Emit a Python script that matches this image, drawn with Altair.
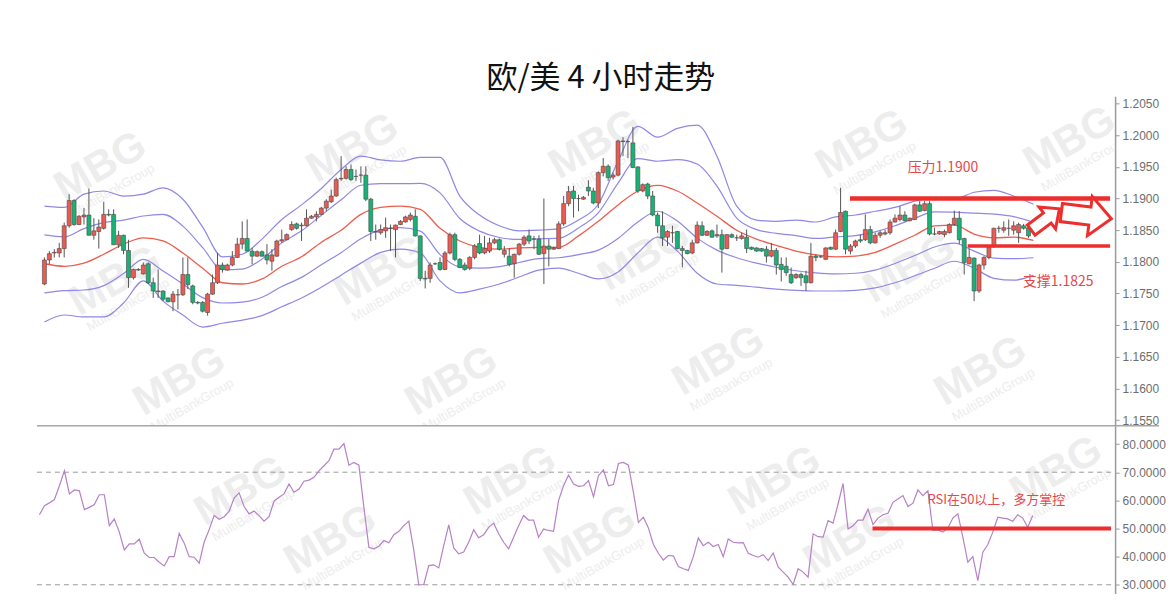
import altair as alt
import pandas as pd

# ---------------- data ----------------
opens = [1.1765,1.1803,1.1814,1.1814,1.1821,1.1857,1.1897,1.1859,1.1871,1.1874,
1.1842,1.1848,1.1853,1.1875,1.1875,1.1827,1.1842,1.1818,1.1775,1.1788,
1.1781,1.1797,1.1767,1.1754,1.1754,1.1743,1.1737,1.1748,1.1748,1.1780,
1.1762,1.1736,1.1736,1.1720,1.1749,1.1767,1.1795,1.1787,1.1795,1.1807,
1.1828,1.1837,1.1817,1.1809,1.1816,1.1811,1.1801,1.1809,1.1833,1.1835,
1.1851,1.1860,1.1857,1.1857,1.1869,1.1871,1.1875,1.1885,1.1895,1.1904,
1.1931,1.1932,1.1946,1.1935,1.1937,1.1937,1.1899,1.1848,1.1846,1.1849,
1.1853,1.1851,1.1859,1.1863,1.1867,1.1872,1.1841,1.1774,1.1774,1.1797,
1.1799,1.1788,1.1814,1.1843,1.1804,1.1795,1.1790,1.1807,1.1829,1.1814,
1.1817,1.1830,1.1835,1.1812,1.1809,1.1797,1.1812,1.1828,1.1841,1.1836,
1.1836,1.1813,1.1825,1.1820,1.1821,1.1860,1.1892,1.1912,1.1900,1.1899,
1.1918,1.1912,1.1893,1.1941,1.1951,1.1934,1.1937,1.1991,1.1990,1.1988,
1.1950,1.1912,1.1923,1.1904,1.1874,1.1857,1.1839,1.1846,1.1848,1.1821,
1.1818,1.1814,1.1830,1.1857,1.1842,1.1849,1.1841,1.1843,1.1821,1.1843,
1.1838,1.1837,1.1839,1.1823,1.1822,1.1821,1.1820,1.1809,1.1818,1.1796,
1.1793,1.1780,1.1775,1.1780,1.1778,1.1767,1.1809,1.1808,1.1804,1.1823,
1.1820,1.1848,1.1880,1.1817,1.1825,1.1835,1.1835,1.1851,1.1830,1.1842,
1.1844,1.1846,1.1863,1.1867,1.1874,1.1865,1.1867,1.1890,1.1881,1.1892,
1.1844,1.1844,1.1843,1.1846,1.1859,1.1869,1.1837,1.1797,1.1806,1.1754,
1.1795,1.1807,1.1825,1.1853,1.1850,1.1853,1.1850,1.1846,1.1857,1.1854]
highs = [1.1807,1.1817,1.1820,1.1830,1.1862,1.1907,1.1899,1.1874,1.1885,1.1916,
1.1869,1.1867,1.1895,1.1883,1.1883,1.1849,1.1843,1.1835,1.1789,1.1790,
1.1799,1.1799,1.1775,1.1788,1.1755,1.1744,1.1754,1.1757,1.1807,1.1807,
1.1764,1.1738,1.1738,1.1751,1.1780,1.1814,1.1799,1.1797,1.1817,1.1838,
1.1864,1.1867,1.1822,1.1818,1.1818,1.1828,1.1820,1.1835,1.1851,1.1845,
1.1864,1.1862,1.1862,1.1883,1.1874,1.1880,1.1887,1.1899,1.1914,1.1933,
1.1967,1.1951,1.1954,1.1946,1.1951,1.1951,1.1901,1.1859,1.1859,1.1870,
1.1859,1.1859,1.1866,1.1873,1.1878,1.1883,1.1842,1.1786,1.1799,1.1799,
1.1807,1.1817,1.1846,1.1846,1.1806,1.1799,1.1809,1.1828,1.1843,1.1841,
1.1838,1.1838,1.1837,1.1825,1.1822,1.1813,1.1830,1.1842,1.1851,1.1841,
1.1842,1.1900,1.1836,1.1824,1.1864,1.1904,1.1920,1.1920,1.1906,1.1904,
1.1929,1.1917,1.1943,1.1964,1.1954,1.1941,1.1993,1.1997,1.1993,1.2013,
1.1951,1.1924,1.1925,1.1912,1.1878,1.1880,1.1850,1.1857,1.1849,1.1825,
1.1819,1.1835,1.1864,1.1864,1.1850,1.1851,1.1859,1.1851,1.1844,1.1845,
1.1843,1.1846,1.1851,1.1824,1.1823,1.1822,1.1825,1.1830,1.1822,1.1807,
1.1807,1.1791,1.1782,1.1783,1.1786,1.1830,1.1812,1.1810,1.1823,1.1824,
1.1851,1.1917,1.1881,1.1828,1.1835,1.1843,1.1875,1.1857,1.1846,1.1849,
1.1851,1.1867,1.1875,1.1888,1.1880,1.1870,1.1892,1.1896,1.1896,1.1896,
1.1854,1.1849,1.1851,1.1861,1.1881,1.1880,1.1838,1.1821,1.1807,1.1797,
1.1809,1.1826,1.1854,1.1857,1.1864,1.1867,1.1864,1.1862,1.1860,1.1859]
lows = [1.1763,1.1796,1.1807,1.1807,1.1807,1.1854,1.1857,1.1858,1.1859,1.1842,
1.1835,1.1821,1.1851,1.1872,1.1827,1.1822,1.1812,1.1759,1.1772,1.1786,
1.1780,1.1765,1.1743,1.1743,1.1738,1.1736,1.1722,1.1725,1.1746,1.1757,
1.1733,1.1733,1.1720,1.1715,1.1748,1.1765,1.1783,1.1786,1.1793,1.1806,
1.1820,1.1817,1.1796,1.1808,1.1808,1.1796,1.1786,1.1808,1.1830,1.1834,
1.1849,1.1851,1.1833,1.1856,1.1868,1.1864,1.1874,1.1880,1.1893,1.1903,
1.1928,1.1930,1.1928,1.1928,1.1925,1.1896,1.1833,1.1835,1.1843,1.1838,
1.1817,1.1807,1.1858,1.1862,1.1864,1.1840,1.1770,1.1758,1.1767,1.1795,
1.1786,1.1787,1.1812,1.1801,1.1790,1.1786,1.1787,1.1804,1.1812,1.1812,
1.1814,1.1828,1.1818,1.1807,1.1793,1.1775,1.1810,1.1825,1.1828,1.1820,
1.1811,1.1765,1.1793,1.1819,1.1820,1.1857,1.1888,1.1870,1.1880,1.1898,
1.1904,1.1891,1.1885,1.1935,1.1928,1.1930,1.1935,1.1967,1.1964,1.1948,
1.1909,1.1910,1.1899,1.1872,1.1846,1.1825,1.1825,1.1830,1.1820,1.1791,
1.1812,1.1812,1.1829,1.1841,1.1841,1.1838,1.1838,1.1783,1.1820,1.1838,
1.1833,1.1835,1.1814,1.1819,1.1816,1.1816,1.1799,1.1807,1.1780,1.1769,
1.1778,1.1765,1.1773,1.1762,1.1754,1.1766,1.1801,1.1806,1.1803,1.1819,
1.1819,1.1847,1.1812,1.1812,1.1822,1.1830,1.1833,1.1828,1.1829,1.1838,
1.1842,1.1843,1.1862,1.1864,1.1864,1.1864,1.1866,1.1879,1.1880,1.1842,
1.1842,1.1843,1.1839,1.1845,1.1857,1.1828,1.1780,1.1796,1.1738,1.1751,
1.1788,1.1804,1.1822,1.1846,1.1846,1.1841,1.1843,1.1830,1.1851,1.1838]
closes = [1.1803,1.1813,1.1815,1.1821,1.1857,1.1897,1.1859,1.1872,1.1874,1.1842,
1.1849,1.1855,1.1875,1.1874,1.1827,1.1842,1.1818,1.1775,1.1788,1.1787,
1.1795,1.1767,1.1754,1.1753,1.1741,1.1737,1.1749,1.1748,1.1780,1.1764,
1.1736,1.1735,1.1722,1.1749,1.1767,1.1795,1.1788,1.1795,1.1807,1.1828,
1.1837,1.1817,1.1809,1.1816,1.1809,1.1803,1.1811,1.1833,1.1835,1.1843,
1.1859,1.1853,1.1858,1.1869,1.1872,1.1875,1.1885,1.1896,1.1904,1.1930,
1.1932,1.1946,1.1930,1.1935,1.1937,1.1899,1.1848,1.1847,1.1851,1.1854,
1.1853,1.1858,1.1864,1.1871,1.1874,1.1841,1.1774,1.1773,1.1795,1.1797,
1.1788,1.1814,1.1843,1.1804,1.1791,1.1788,1.1807,1.1825,1.1814,1.1821,
1.1830,1.1835,1.1820,1.1818,1.1796,1.1812,1.1828,1.1839,1.1833,1.1836,
1.1812,1.1825,1.1820,1.1822,1.1860,1.1892,1.1911,1.1900,1.1900,1.1902,
1.1912,1.1893,1.1941,1.1951,1.1933,1.1937,1.1991,1.1990,1.1990,1.1949,
1.1912,1.1922,1.1904,1.1874,1.1857,1.1838,1.1848,1.1846,1.1821,1.1818,
1.1813,1.1830,1.1858,1.1842,1.1848,1.1839,1.1843,1.1820,1.1843,1.1839,
1.1838,1.1841,1.1821,1.1820,1.1817,1.1817,1.1809,1.1818,1.1795,1.1788,
1.1783,1.1767,1.1780,1.1775,1.1767,1.1809,1.1807,1.1808,1.1822,1.1820,
1.1846,1.1878,1.1820,1.1825,1.1833,1.1833,1.1851,1.1830,1.1842,1.1846,
1.1846,1.1863,1.1869,1.1874,1.1865,1.1869,1.1890,1.1880,1.1892,1.1844,
1.1844,1.1848,1.1848,1.1859,1.1869,1.1835,1.1799,1.1807,1.1754,1.1795,
1.1807,1.1825,1.1853,1.1853,1.1854,1.1853,1.1857,1.1859,1.1853,1.1841]

# Bollinger bands, sampled every 4 bars
band_idx = [0,4,8,12,16,20,24,28,32,36,40,44,48,52,56,60,64,68,72,76,80,84,88,92,96,
            100,104,108,112,116,120,124,128,132,136,140,144,148,152,156,160,164,168,172,
            176,180,184,188,192,196,200]
band_upper = [1.1888,1.1886,1.1907,1.1912,1.1904,1.1907,1.1917,1.1899,1.1855,1.1808,
1.1812,1.1836,1.1867,1.1890,1.1916,1.1946,1.1967,1.1961,1.1959,1.1965,1.1965,1.1904,
1.1874,1.1857,1.1849,1.1850,1.1852,1.1866,1.1891,1.1959,1.2014,1.1997,1.2011,1.2016,
1.1967,1.1888,1.1866,1.1864,1.1866,1.1863,1.1871,1.1874,1.1880,1.1886,1.1896,1.1901,
1.1899,1.1910,1.1913,1.1904,1.1891]
band_mid = [1.1797,1.1793,1.1798,1.1812,1.1828,1.1838,1.1833,1.1814,1.1790,1.1767,
1.1765,1.1773,1.1793,1.1808,1.1831,1.1850,1.1875,1.1886,1.1888,1.1883,1.1853,1.1833,
1.1823,1.1820,1.1822,1.1823,1.1823,1.1841,1.1864,1.1890,1.1912,1.1921,1.1912,1.1893,
1.1872,1.1850,1.1836,1.1826,1.1817,1.1811,1.1808,1.1809,1.1815,1.1828,1.1842,1.1857,
1.1858,1.1844,1.1838,1.1839,1.1834]
band_lower = [1.1705,1.1716,1.1713,1.1713,1.1735,1.1770,1.1738,1.1716,1.1697,1.1703,
1.1708,1.1715,1.1729,1.1743,1.1760,1.1779,1.1798,1.1815,1.1820,1.1814,1.1770,1.1751,
1.1757,1.1765,1.1776,1.1787,1.1790,1.1782,1.1773,1.1784,1.1814,1.1839,1.1817,1.1782,
1.1765,1.1763,1.1760,1.1757,1.1755,1.1754,1.1754,1.1755,1.1759,1.1767,1.1778,1.1790,
1.1801,1.1790,1.1774,1.1771,1.1779]

rsi = [54.9,58.1,59.1,60.3,65.2,70.5,62.3,63.7,63.4,56.7,
57.5,58.5,62.0,62.0,51.0,53.4,48.7,42.4,44.5,44.5,
46.2,41.2,39.7,39.7,38.0,36.7,40.0,40.0,48.3,44.8,
40.0,39.8,37.7,45.1,49.6,54.6,53.3,54.2,56.1,60.8,
62.7,57.8,55.2,56.2,54.6,52.6,54.2,59.7,61.1,62.3,
65.8,62.9,64.0,66.8,67.2,68.2,70.5,72.3,74.1,78.2,
78.2,80.2,72.5,73.5,72.5,57.5,43.3,42.8,43.7,45.7,
44.9,47.8,49.0,51.0,52.6,42.2,30.0,30.1,36.8,37.1,
36.0,43.9,51.3,43.1,41.0,41.6,45.1,49.5,46.7,47.8,
50.4,51.9,48.1,45.1,42.8,46.9,51.0,54.6,53.0,53.0,
46.9,49.8,49.3,49.0,59.9,65.2,69.0,65.8,65.0,65.2,
67.0,61.3,68.8,70.8,65.2,65.6,73.1,73.5,72.5,62.8,
52.2,54.0,50.2,44.3,41.2,38.8,40.4,40.3,36.5,35.7,
35.1,40.0,46.6,43.9,45.1,43.6,44.3,40.0,46.3,45.1,
44.9,45.0,41.2,40.4,39.8,40.7,38.6,41.3,36.3,34.5,
32.7,30.1,35.7,34.5,32.7,48.1,47.1,46.9,52.8,51.9,
58.7,66.0,49.8,51.0,53.0,53.0,56.9,51.4,53.7,54.9,
55.4,59.3,60.5,61.7,57.8,59.0,63.7,61.7,63.4,49.3,
49.5,48.7,50.2,53.7,55.2,46.9,38.0,40.0,31.5,41.6,
44.3,48.7,54.0,53.7,53.4,52.6,54.9,53.7,50.4,54.6]

price_ticks = [1.155,1.160,1.165,1.170,1.175,1.180,1.185,1.190,1.195,1.200,1.205]
rsi_ticks = [30,40,50,60,70,80]
rsi_guides = [70,30]

# annotations
level_price = [1.1900, 1.1825]
level_start = [162.9, 186.7]
level_end = [215.5, 215.5]
level_width = [4.5, 3.5]
level_text = ["压力1.1900", "支撑1.1825"]
level_text_idx = [181.7, 205.0]
level_text_price = [1.1948, 1.1768]
rsi_mark = [50]
rsi_mark_start = [166.9]
rsi_mark_end = [214.7]
rsi_text = ["RSI在50以上，多方掌控"]
rsi_text_idx = [191.7]
rsi_text_val = [60.3]
arrow_idx = [202.4, 210.7]
arrow_price = [1.1867, 1.1873]
arrow_angle = [323, 7]
arrow_size = [1250, 2550]

# watermark anchors (bar index / price, bar index / RSI)
wm_price_idx = [11.3, 62.3, 111.3, 165.3, 207.3, 14.3, 67.9, 121.3, 174.9, 27.3, 82.3, 136.3, 189.3]
wm_price_val = [1.1951, 1.1980, 1.1986, 1.1986, 1.1991, 1.1770, 1.1786, 1.1809, 1.1790,
                1.1612, 1.1612, 1.1644, 1.1628]
wm_rsi_idx = [40.3, 94.3, 147.3, 203.7, 58.3, 110.3, 162.3]
wm_rsi_val = [63.4, 67.0, 67.0, 70.5, 46.0, 46.0, 46.0]

TITLE = "欧/美 4 小时走势"
CJK = "Noto Sans CJK SC"
RED = "#ee2d2d"
BLUE = "#8f88e4"
WM = "#ededed"

# ---------------- tables ----------------
candles = pd.DataFrame({"i": list(range(len(opens))), "open": opens, "high": highs,
                        "low": lows, "close": closes})
candles["dir"] = ["up" if c >= o else "down" for o, c in zip(opens, closes)]
bands = pd.DataFrame({"i": band_idx, "upper": band_upper, "mid": band_mid, "lower": band_lower})
levels = pd.DataFrame({"p": level_price, "x0": level_start, "x1": level_end, "w": level_width})
level_labels = pd.DataFrame({"i": level_text_idx, "p": level_text_price, "t": level_text})
arrows = pd.DataFrame({"i": arrow_idx, "p": arrow_price, "a": arrow_angle, "s": arrow_size})
rsi_df = pd.DataFrame({"i": list(range(len(rsi))), "r": rsi})
guides = pd.DataFrame({"v": rsi_guides})
rsi_lvl = pd.DataFrame({"v": rsi_mark, "x0": rsi_mark_start, "x1": rsi_mark_end})
rsi_lbl = pd.DataFrame({"i": rsi_text_idx, "v": rsi_text_val, "t": rsi_text})
wm_p = pd.DataFrame({"i": wm_price_idx, "v": wm_price_val})
wm_r = pd.DataFrame({"i": wm_rsi_idx, "v": wm_rsi_val})

W = 1080
H1 = 330
H2 = 168

xscale = alt.Scale(domain=[-0.5, 215.5], nice=False, zero=False)
pscale = alt.Scale(domain=[1.1541, 1.20615], nice=False, zero=False)
rscale = alt.Scale(domain=[26.9, 86.5], nice=False, zero=False)

def axis_style(values, fmt):
    return alt.Axis(orient="right", values=values, format=fmt, title=None, grid=False,
                    domainColor="#9a9a9a", domainWidth=1.5, tickColor="#9a9a9a", tickSize=4,
                    labelColor="#6e6e6e", labelFont="Liberation Sans", labelFontSize=12,
                    labelPadding=3)

paxis = axis_style(price_ticks, ".4f")
raxis = axis_style(rsi_ticks, ".4f")

def X(field="i"):
    return alt.X(f"{field}:Q", scale=xscale, axis=None)

def PY(field):
    return alt.Y(f"{field}:Q", scale=pscale, axis=paxis)

def RY(field):
    return alt.Y(f"{field}:Q", scale=rscale, axis=raxis)

def watermarks(df, yfun, sub_shift):
    big = alt.Chart(df).mark_text(text="MBG", font="Liberation Sans", fontWeight="bold",
                                  fontSize=42, angle=330, color=WM, clip=True).encode(
        x=X(), y=yfun("v"))
    small = alt.Chart(df).transform_calculate(
        i2="datum.i + 2.6", v2=f"datum.v - {sub_shift}"
    ).mark_text(text="MultiBankGroup", font="Liberation Sans", fontSize=13, angle=330,
                color=WM, clip=True).encode(x=X("i2"), y=yfun("v2"))
    return [big, small]

# ---------------- price panel ----------------
band_lines = alt.Chart(bands).transform_calculate(
    ui="(datum.upper + datum.mid) / 2", li="(datum.lower + datum.mid) / 2"
).transform_fold(["upper", "ui", "li", "lower"], as_=["k", "val"]).mark_line(
    color=BLUE, strokeWidth=1.2, interpolate="monotone"
).encode(x=X(), y=PY("val"), detail="k:N")

mid_line = alt.Chart(bands).mark_line(color="#ec5d4c", strokeWidth=1.3, interpolate="monotone").encode(
    x=X(), y=PY("mid"))

wicks = alt.Chart(candles).mark_rule(color="#555555", strokeWidth=1).encode(
    x=X(), y=PY("low"), y2="high:Q")

bodies = alt.Chart(candles).mark_bar(size=4, stroke="#4a4a4a", strokeWidth=0.6).encode(
    x=X(), y=PY("open"), y2="close:Q",
    color=alt.Color("dir:N", scale=alt.Scale(domain=["up", "down"], range=["#ec5a50", "#17b276"]),
                    legend=None))

level_rules = alt.Chart(levels).mark_rule(color=RED).encode(
    x=X("x0"), x2="x1:Q", y=PY("p"), strokeWidth=alt.StrokeWidth("w:Q", scale=None))

level_txt = alt.Chart(level_labels).mark_text(font=CJK, fontSize=14, color="#e8474a").encode(
    x=X(), y=PY("p"), text="t:N")

arrow_path = "M -1 -0.36 L 0.14 -0.36 L 0.14 -0.78 L 1 0 L 0.14 0.78 L 0.14 0.36 L -1 0.36 Z"
arrow_marks = alt.Chart(arrows).mark_point(
    shape=arrow_path, filled=True, fill="white", stroke=RED, strokeWidth=3, opacity=1
).encode(x=X(), y=PY("p"), angle=alt.Angle("a:Q", scale=None),
         size=alt.Size("s:Q", scale=None, legend=None))

divider = alt.Chart(levels).mark_rule(color="#a0a0a0", strokeWidth=1).encode(
    x=alt.value(0), x2=alt.value(W + 44), y=alt.value(H1))

price_panel = alt.layer(
    *watermarks(wm_p, PY, 0.0038),
    band_lines, mid_line, wicks, bodies, level_rules, level_txt, arrow_marks, divider
).properties(width=W, height=H1)

# ---------------- RSI panel ----------------
guide_rules = alt.Chart(guides).mark_rule(color="#9a9a9a", strokeDash=[5, 4], strokeWidth=1).encode(
    y=RY("v"), x=alt.value(0), x2=alt.value(W))

rsi_line = alt.Chart(rsi_df).mark_line(color="#b681c6", strokeWidth=1.2).encode(x=X(), y=RY("r"))

rsi_rule = alt.Chart(rsi_lvl).mark_rule(color=RED, strokeWidth=4).encode(
    x=X("x0"), x2="x1:Q", y=RY("v"))

rsi_txt = alt.Chart(rsi_lbl).mark_text(font=CJK, fontSize=13, color="#e8474a").encode(
    x=X(), y=RY("v"), text="t:N")

rsi_panel = alt.layer(*watermarks(wm_r, RY, 8.5), guide_rules, rsi_line, rsi_rule, rsi_txt).properties(
    width=W, height=H2)

chart = alt.vconcat(price_panel, rsi_panel, spacing=0, bounds="flush").properties(
    title=alt.TitleParams(TITLE, font=CJK, fontSize=31, fontWeight="normal", color="#111111",
                          anchor="middle", offset=1),
    padding={"left": 28, "top": 55, "right": 0, "bottom": 0},
    background="white",
).configure_view(stroke=None)

chart.save("out.html", embed_options={"renderer": "svg", "actions": False})
